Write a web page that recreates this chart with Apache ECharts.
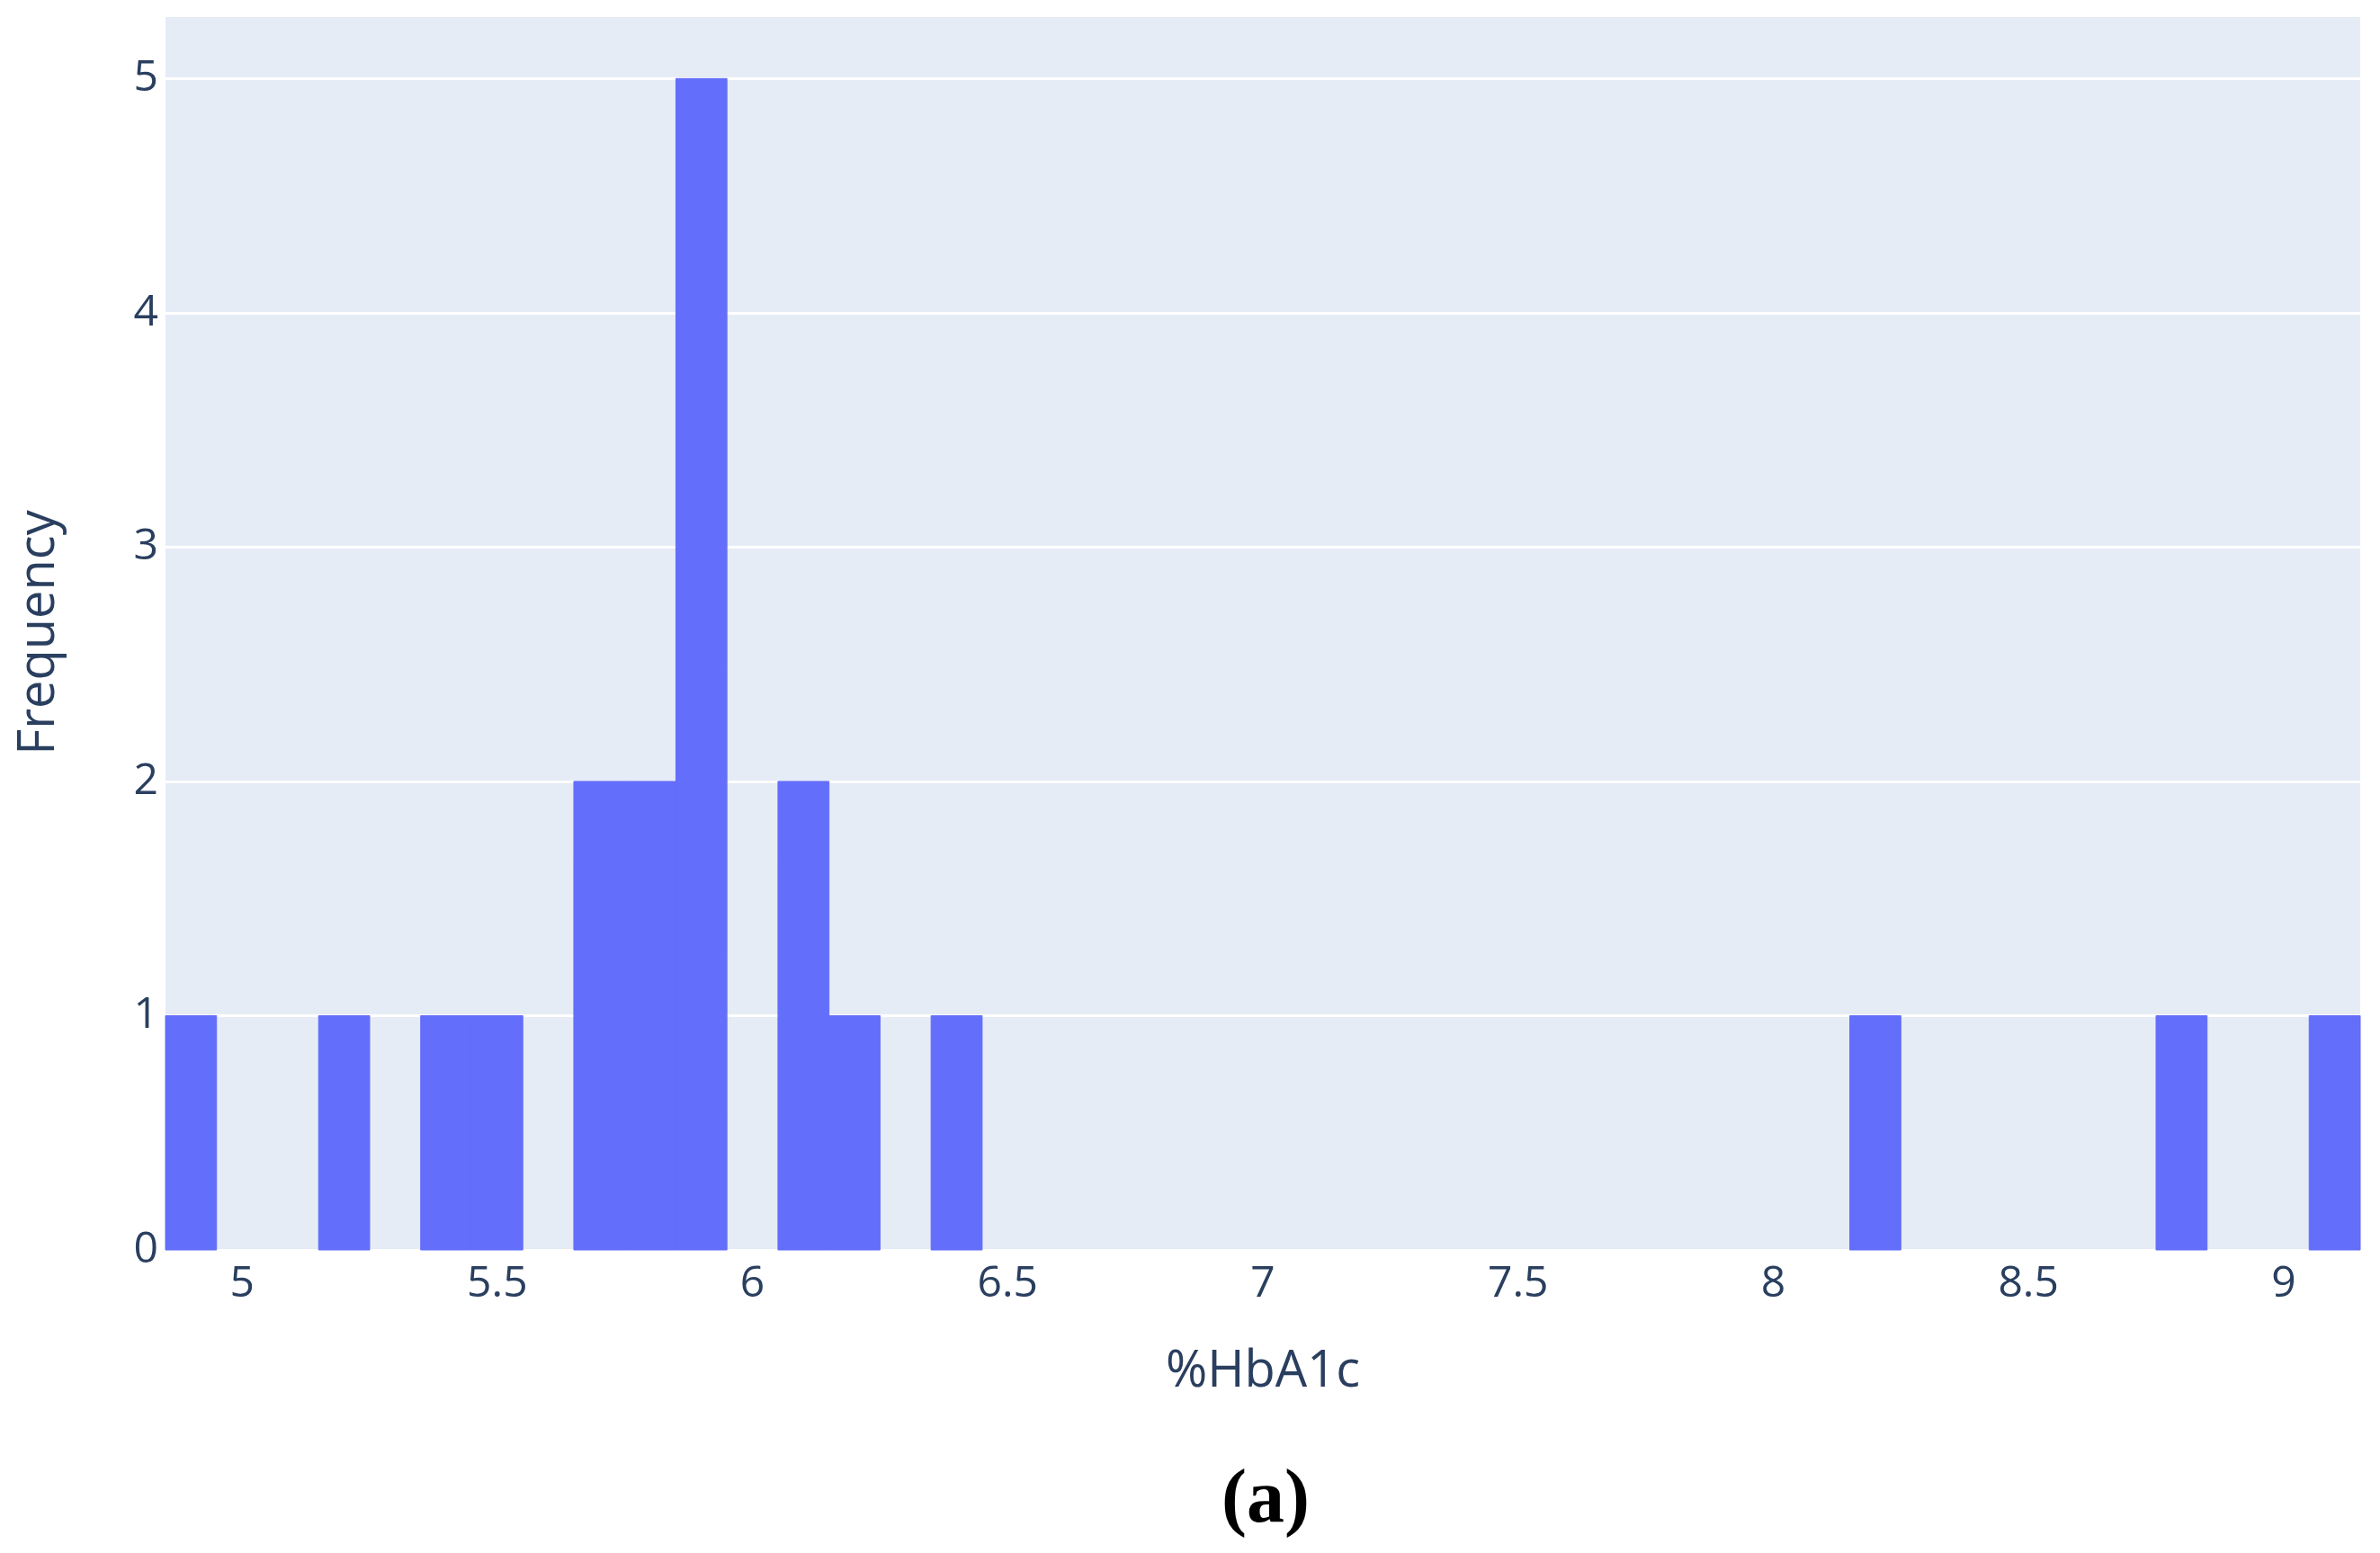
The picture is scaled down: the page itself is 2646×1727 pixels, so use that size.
<!DOCTYPE html>
<html>
<head>
<meta charset="utf-8">
<script src="https://cdn.jsdelivr.net/npm/echarts@6/dist/echarts.min.js"></script>
<style>
html,body{margin:0;padding:0;background:#fff;}
#chart{width:2646px;height:1727px;}
</style>
</head>
<body>
<div id="chart"></div>
<script>
// Histogram bins (%HbA1c), bin width 0.1
var binStarts = [4.85, 5.15, 5.35, 5.45, 5.65, 5.75, 5.85, 6.05, 6.15, 6.35, 8.15, 8.75, 9.05];
var binEnds   = [4.95, 5.25, 5.45, 5.55, 5.75, 5.85, 5.95, 6.15, 6.25, 6.45, 8.25, 8.85, 9.15];
var counts    = [1, 1, 1, 1, 2, 2, 5, 2, 1, 1, 1, 1, 1];
var xTicks    = [5, 5.5, 6, 6.5, 7, 7.5, 8, 8.5, 9];
var yTicks    = [0, 1, 2, 3, 4, 5];
var xTitle = '%HbA1c';
var yTitle = 'Frequency';
var panelLabel = '(a)';

var data = binStarts.map(function (s, i) { return [s, binEnds[i], counts[i]]; });

var chart = echarts.init(document.getElementById('chart'), null, {renderer: 'canvas'});
var textColor = '#2a3f5f';
var font = '"Open Sans", "Noto Sans", sans-serif';

chart.setOption({
  animation: false,
  backgroundColor: '#ffffff',
  grid: {
    left: 184, right: 22, top: 17, bottom: 337,
    show: true, backgroundColor: '#e5ecf6', borderWidth: 0
  },
  xAxis: {
    type: 'value', min: 4.85, max: 9.15,
    axisLine: {show: false}, axisTick: {show: false},
    splitLine: {show: false},
    axisLabel: {
      customValues: xTicks,
      color: textColor, fontSize: 48, fontFamily: font, margin: 14
    },
    name: xTitle, nameLocation: 'middle', nameGap: 108,
    nameTextStyle: {color: textColor, fontSize: 56, fontFamily: font}
  },
  yAxis: {
    type: 'value', min: 0, max: 5.27, interval: 1,
    axisLine: {show: false}, axisTick: {show: false},
    splitLine: {show: true, lineStyle: {color: '#ffffff', width: 3}},
    axisLabel: {
      customValues: yTicks,
      color: textColor, fontSize: 48, fontFamily: font, margin: 8
    },
    name: yTitle, nameLocation: 'middle', nameGap: 112,
    nameTextStyle: {color: textColor, fontSize: 56, fontFamily: font}
  },
  series: [{
    type: 'custom',
    data: data,
    encode: {x: [0, 1], y: 2},
    renderItem: function (params, api) {
      var p0 = api.coord([api.value(0), 0]);
      var p1 = api.coord([api.value(1), api.value(2)]);
      return {
        type: 'rect',
        shape: {x: p0[0], y: p1[1], width: p1[0] - p0[0], height: p0[1] - p1[1]},
        style: {fill: '#636efa', stroke: '#636efa', lineWidth: 1}
      };
    }
  }],
  graphic: [{
    type: 'text',
    left: 1404 - 46, top: 1628,
    style: {
      text: panelLabel,
      font: 'bold 84px "Liberation Serif", "Times New Roman", serif',
      fill: '#000000'
    }
  }]
});
</script>
</body>
</html>
